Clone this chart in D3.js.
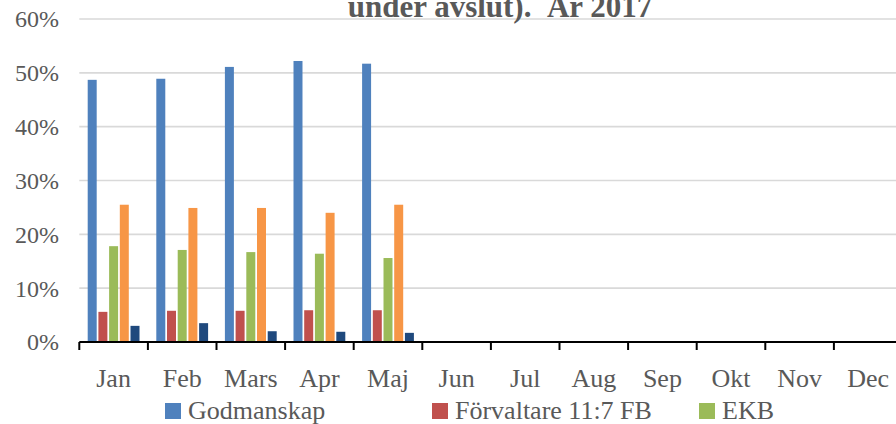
<!DOCTYPE html>
<html>
<head>
<meta charset="utf-8">
<script src="https://cdn.jsdelivr.net/npm/d3@7"></script>
<style>
  html, body { margin: 0; padding: 0; background: #fff; overflow: hidden; }
  text { font-family: "Liberation Serif", "Times New Roman", serif; fill: #595959; white-space: pre; }
</style>
</head>
<body>
<div id="chart"></div>
<script>
const months = ["Jan", "Feb", "Mars", "Apr", "Maj", "Jun", "Jul", "Aug", "Sep", "Okt", "Nov", "Dec"]
const seriesNames = ["Godmanskap", "Förvaltare 11:7 FB", "EKB", "Förmynderskap", "Övrigt"]
const seriesColors = ["#4F81BD", "#C0504D", "#9BBB59", "#F79646", "#1F497D"]
// only Jan-Maj have values
const godmanskap = [0.487, 0.489, 0.511, 0.522, 0.517]
const forvaltare = [0.056, 0.058, 0.058, 0.059, 0.059]
const ekb = [0.178, 0.171, 0.167, 0.164, 0.156]
const formynderskap = [0.255, 0.249, 0.249, 0.240, 0.255]
const ovrigt = [0.030, 0.035, 0.020, 0.019, 0.017]
const yTicks = [0, 0.1, 0.2, 0.3, 0.4, 0.5, 0.6]
const titleText = "under avslut).  År 2017"

const values = [godmanskap, forvaltare, ekb, formynderskap, ovrigt]
const rows = []
values.forEach((arr, s) => arr.forEach((v, i) => rows.push({month: months[i], series: seriesNames[s], value: v})))

const width = 896, height = 424
const svg = d3.select("#chart").append("svg")
    .attr("width", width)
    .attr("height", height)

const x = d3.scaleBand().domain(months).range([79.3, 79.3 + 12 * 68.6])
const x1 = d3.scaleBand().domain(seriesNames).range([8.4, 60.2]).paddingInner(0.16)
const y = d3.scaleLinear().domain([0, 0.6]).range([342, 19])
const color = d3.scaleOrdinal().domain(seriesNames).range(seriesColors)

// grid
svg.append("g")
    .selectAll("line")
    .data(yTicks.slice(1))
    .join("line")
    .attr("x1", x.range()[0])
    .attr("x2", width)
    .attr("y1", d => y(d))
    .attr("y2", d => y(d))
    .attr("stroke", "#d9d9d9")
    .attr("stroke-width", 1.6)

// y labels
svg.append("g")
    .selectAll("text")
    .data(yTicks)
    .join("text")
    .attr("x", 59)
    .attr("y", d => y(d))
    .attr("dy", "0.35em")
    .attr("text-anchor", "end")
    .style("font-size", "24px")
    .text(d => d3.format(".0%")(d))

// bars
svg.append("g")
    .selectAll("rect")
    .data(rows)
    .join("rect")
    .attr("x", d => x(d.month) + x1(d.series))
    .attr("width", x1.bandwidth())
    .attr("y", d => y(d.value))
    .attr("height", d => y(0) - y(d.value))
    .attr("fill", d => color(d.series))

// x axis
const xAxis = svg.append("g")
xAxis.append("line")
    .attr("x1", x.range()[0])
    .attr("x2", width)
    .attr("y1", y(0))
    .attr("y2", y(0))
    .attr("stroke", "#000")
    .attr("stroke-width", 2)
xAxis.selectAll("line.tick")
    .data(months)
    .join("line")
    .attr("class", "tick")
    .attr("x1", d => x(d))
    .attr("x2", d => x(d))
    .attr("y1", y(0))
    .attr("y2", y(0) + 8)
    .attr("stroke", "#000")
    .attr("stroke-width", 2)
xAxis.selectAll("text")
    .data(months)
    .join("text")
    .attr("x", d => x(d) + x.bandwidth() / 2)
    .attr("y", 387)
    .attr("text-anchor", "middle")
    .style("font-size", "26px")
    .text(d => d)

// title (first line is outside the picture)
svg.append("text")
    .attr("x", 500)
    .attr("y", 17)
    .attr("text-anchor", "middle")
    .style("font-size", "31px")
    .style("font-weight", "bold")
    .text(titleText)

// legend, 3 per row
const legend = svg.append("g")
    .selectAll("g")
    .data(seriesNames)
    .join("g")
    .attr("transform", (d, i) => `translate(${165 + (i % 3) * 267},${403 + Math.floor(i / 3) * 30})`)
legend.append("rect")
    .attr("width", 16)
    .attr("height", 16)
    .attr("fill", d => color(d))
legend.append("text")
    .attr("x", 23)
    .attr("y", 16)
    .style("font-size", "26px")
    .text(d => d)
</script>
</body>
</html>
